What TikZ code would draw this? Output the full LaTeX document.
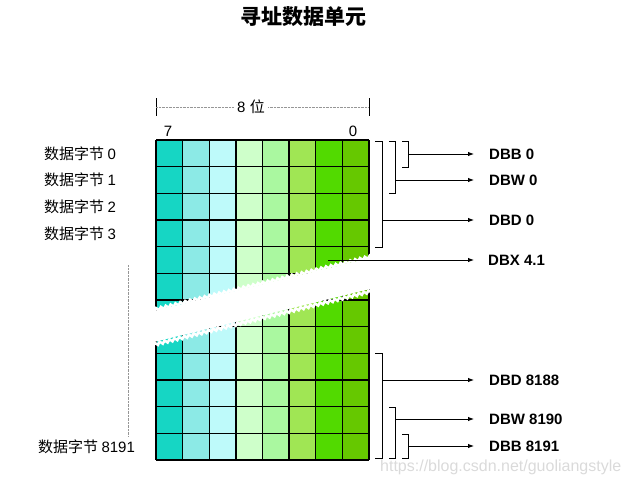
\documentclass[tikz,border=0pt]{standalone}
\usepackage{fontspec}
\setmainfont{Liberation Sans}
\newfontfamily\cjk{Noto Sans CJK SC}
\usetikzlibrary{arrows.meta,calc,positioning,decorations.pathmorphing}
\definecolor{ColA}{RGB}{22,214,196}
\definecolor{ColB}{RGB}{140,234,230}
\definecolor{ColC}{RGB}{190,250,250}
\definecolor{ColD}{RGB}{206,255,202}
\definecolor{ColE}{RGB}{170,248,160}
\definecolor{ColF}{RGB}{160,230,84}
\definecolor{ColG}{RGB}{82,218,0}
\definecolor{ColH}{RGB}{102,200,0}
\definecolor{DimGray}{RGB}{150,150,150}
\definecolor{MarkGray}{RGB}{218,218,218}
\tikzset{
  bytelab/.style={anchor=west,inner sep=0pt,font=\fontsize{15}{15}\selectfont\cjk},
  addrlab/.style={anchor=west,inner sep=0pt,font=\fontsize{15}{15}\selectfont\bfseries},
  brack/.style={line width=1pt},
  ptr/.style={-{Latex[length=6pt,width=4.5pt]},line width=0.9pt},
}
\begin{document}
\begin{tikzpicture}[x=1pt,y=-1pt,>=Latex]
      \useasboundingbox (0,0) rectangle (629,487);
      \node[font=\fontsize{21}{21}\selectfont\cjk\bfseries] (title) at (303,17) {寻址数据单元};
      % bit width
      \draw[line width=1pt] (156,98)--(156,116) (369,98)--(369,116);
      \node[font=\fontsize{15}{15}\selectfont] (width) at (251,107) {8 {\cjk 位}};
      \draw[densely dotted,DimGray] (156,107)--(width.west) (width.east)--(369,107);
      \node[font=\fontsize{15}{15}\selectfont] (bit7) at (168,131) {7};
      \node[font=\fontsize{15}{15}\selectfont] (bit0) at (353,131) {0};
      % byte cells
      \foreach \c/\col in {0/ColA,1/ColB,2/ColC,3/ColD,4/ColE,5/ColF,6/ColG,7/ColH}
        \fill[\col] ({156+\c*26.625},140) rectangle ++(26.625,320);
      \foreach \r in {0,...,12}
        \draw[line width=1.4pt] (156,{140+\r*26.667})--(369,{140+\r*26.667});
      \foreach \c in {0,...,8}
        \draw[line width=1.4pt] ({156+\c*26.625},140)--({156+\c*26.625},460);
      % break
      \fill[white] (150,312)--(374,257)--(374,288)--(150,343)--cycle;
      \draw[white,line width=2.5pt,decorate,decoration={snake,amplitude=1.4pt,segment length=5pt}]
        (150,311)--(374,256) (150,344)--(374,289);
      \draw[densely dotted,DimGray] (128,265)--(128,436);
      % byte labels
      \node[bytelab] (b0) at (44,153.3) {数据字节 {\rmfamily 0}};
      \node[bytelab] (b1) at (44,180) {数据字节 {\rmfamily 1}};
      \node[bytelab] (b2) at (44,206.7) {数据字节 {\rmfamily 2}};
      \node[bytelab] (b3) at (44,233.3) {数据字节 {\rmfamily 3}};
      \node[bytelab] (b8191) at (38,446.7) {数据字节 {\rmfamily 8191}};
      % address labels
      \node[addrlab] (dbb0) at (489,154) {DBB 0};
      \node[addrlab] (dbw0) at (489,180) {DBW 0};
      \node[addrlab] (dbd0) at (489,220) {DBD 0};
      \node[addrlab] (dbx) at (488,260) {DBX 4.1};
      \node[addrlab] (dbd8188) at (489,380) {DBD 8188};
      \node[addrlab] (dbw8190) at (489,419) {DBW 8190};
      \node[addrlab] (dbb8191) at (489,446) {DBB 8191};
      % brackets
      \draw[brack] (402,141)--(408,141)--(408,167)--(402,167);
      \draw[brack] (389,141)--(395,141)--(395,193)--(389,193);
      \draw[brack] (375,141)--(382,141)--(382,247)--(375,247);
      \draw[brack] (375,353)--(382,353)--(382,458)--(375,458);
      \draw[brack] (389,407)--(395,407)--(395,458)--(389,458);
      \draw[brack] (402,434)--(408,434)--(408,458)--(402,458);
      \coordinate (m0) at (408,154);
      \coordinate (m1) at (395,180);
      \coordinate (m2) at (382,220);
      \coordinate (m3) at (328,260);
      \coordinate (m4) at (382,380);
      \coordinate (m5) at (395,419);
      \coordinate (m6) at (408,446);
      \draw[ptr] (m0)--([xshift=-15pt]dbb0.west);
      \draw[ptr] (m1)--([xshift=-15pt]dbw0.west);
      \draw[ptr] (m2)--([xshift=-15pt]dbd0.west);
      \draw[ptr] (m3)--([xshift=-14pt]dbx.west);
      \draw[ptr] (m4)--([xshift=-15pt]dbd8188.west);
      \draw[ptr] (m5)--([xshift=-15pt]dbw8190.west);
      \draw[ptr] (m6)--([xshift=-15pt]dbb8191.west);
      \node[anchor=west,inner sep=0pt,MarkGray,font=\fontsize{16}{16}\selectfont] (mark) at (380,467) {https://blog.csdn.net/guoliangstyle};
    \end{tikzpicture}
\end{document}
